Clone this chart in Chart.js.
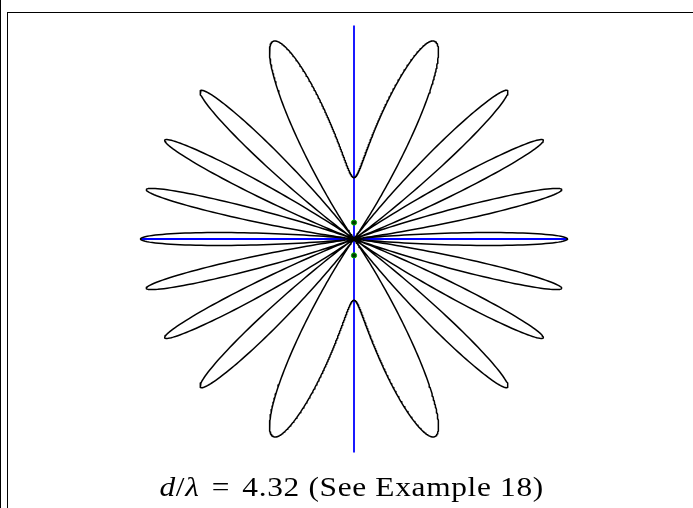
<!DOCTYPE html>
<html>
<head>
<meta charset="utf-8">
<script src="https://cdn.jsdelivr.net/npm/chart.js@4/dist/chart.umd.min.js"></script>
<style>
  html, body { margin: 0; padding: 0; background: #fff; overflow: hidden; }
  #wrap { position: relative; width: 693px; height: 508px; }
  #outer { position: absolute; left: 0; top: 0; width: 1.4px; height: 508px; background: #000; }
  #inner { position: absolute; left: 7.3px; top: 11.7px; width: 700px; height: 520px;
           border-left: 1.4px solid #000; border-top: 1.4px solid #000; box-sizing: border-box; }
  #caption { position: absolute; left: 0; width: 704px; top: 471px; text-align: center;
             font-family: "Liberation Serif", "DejaVu Serif", serif; font-size: 28px; color: #000;
             white-space: nowrap; }
  #caption span.t { display: inline-block; transform: scaleX(1.12); transform-origin: center;
                    letter-spacing: 0.6px; }
  #caption span.eq { margin: 0 0.12em; }
</style>
</head>
<body>
<div id="wrap">
  <canvas id="pattern"></canvas>
  <div id="outer"></div>
  <div id="inner"></div>
  <div id="caption"><span class="t"><i>d</i>/<i>λ</i> <span class="eq">=</span> 4.32 (See Example 18)</span></div>
</div>
<script>
// d/λ of the two-element array, as printed under the chart
const spacingRatio = 4.32;

// axis lines through the origin (pattern max = 1)
const axisH = [{ x: -1, y: 0 }, { x: 1, y: 0 }];
const axisV = [{ x: 0, y: -1 }, { x: 0, y: 1 }];

// the two elements on the vertical axis
const elements = [{ x: 0, y: 0.077 }, { x: 0, y: -0.077 }];

const samples = 2880;

// power pattern r = cos^2(pi * d/lambda * sin(theta))
const patternPts = [];
for (let i = 0; i <= samples; i++) {
  const t = (i / samples) * 2 * Math.PI;
  const c = Math.cos(Math.PI * spacingRatio * Math.sin(t));
  const r = c * c;
  patternPts.push({ x: r * Math.cos(t), y: r * Math.sin(t) });
}

// 213.5 px per unit, origin at (354, 239)
const unit = 213.5;

new Chart(document.getElementById("pattern"), {
  type: "scatter",
  data: {
    datasets: [
      {
        data: elements,
        pointRadius: 2.6,
        pointBackgroundColor: "#003a00",
        pointBorderColor: "#00b000",
        pointBorderWidth: 1,
        showLine: false,
        order: 0
      },
      {
        data: patternPts,
        showLine: true,
        borderColor: "#000",
        borderWidth: 1.5,
        borderJoinStyle: "round",
        borderCapStyle: "round",
        pointRadius: 0,
        tension: 0,
        order: 1
      },
      {
        data: axisH,
        showLine: true,
        borderColor: "#0000ff",
        borderWidth: 1.8,
        pointRadius: 0,
        order: 2
      },
      {
        data: axisV,
        showLine: true,
        borderColor: "#0000ff",
        borderWidth: 1.8,
        pointRadius: 0,
        order: 2
      }
    ]
  },
  options: {
    responsive: true,
    maintainAspectRatio: false,
    animation: false,
    layout: { padding: 0, autoPadding: false },
    plugins: { legend: { display: false }, tooltip: { enabled: false } },
    scales: {
      x: { type: "linear", display: false, min: -354 / unit, max: (693 - 354) / unit },
      y: { type: "linear", display: false, min: -(508 - 239) / unit, max: 239 / unit }
    }
  }
});
</script>
</body>
</html>
